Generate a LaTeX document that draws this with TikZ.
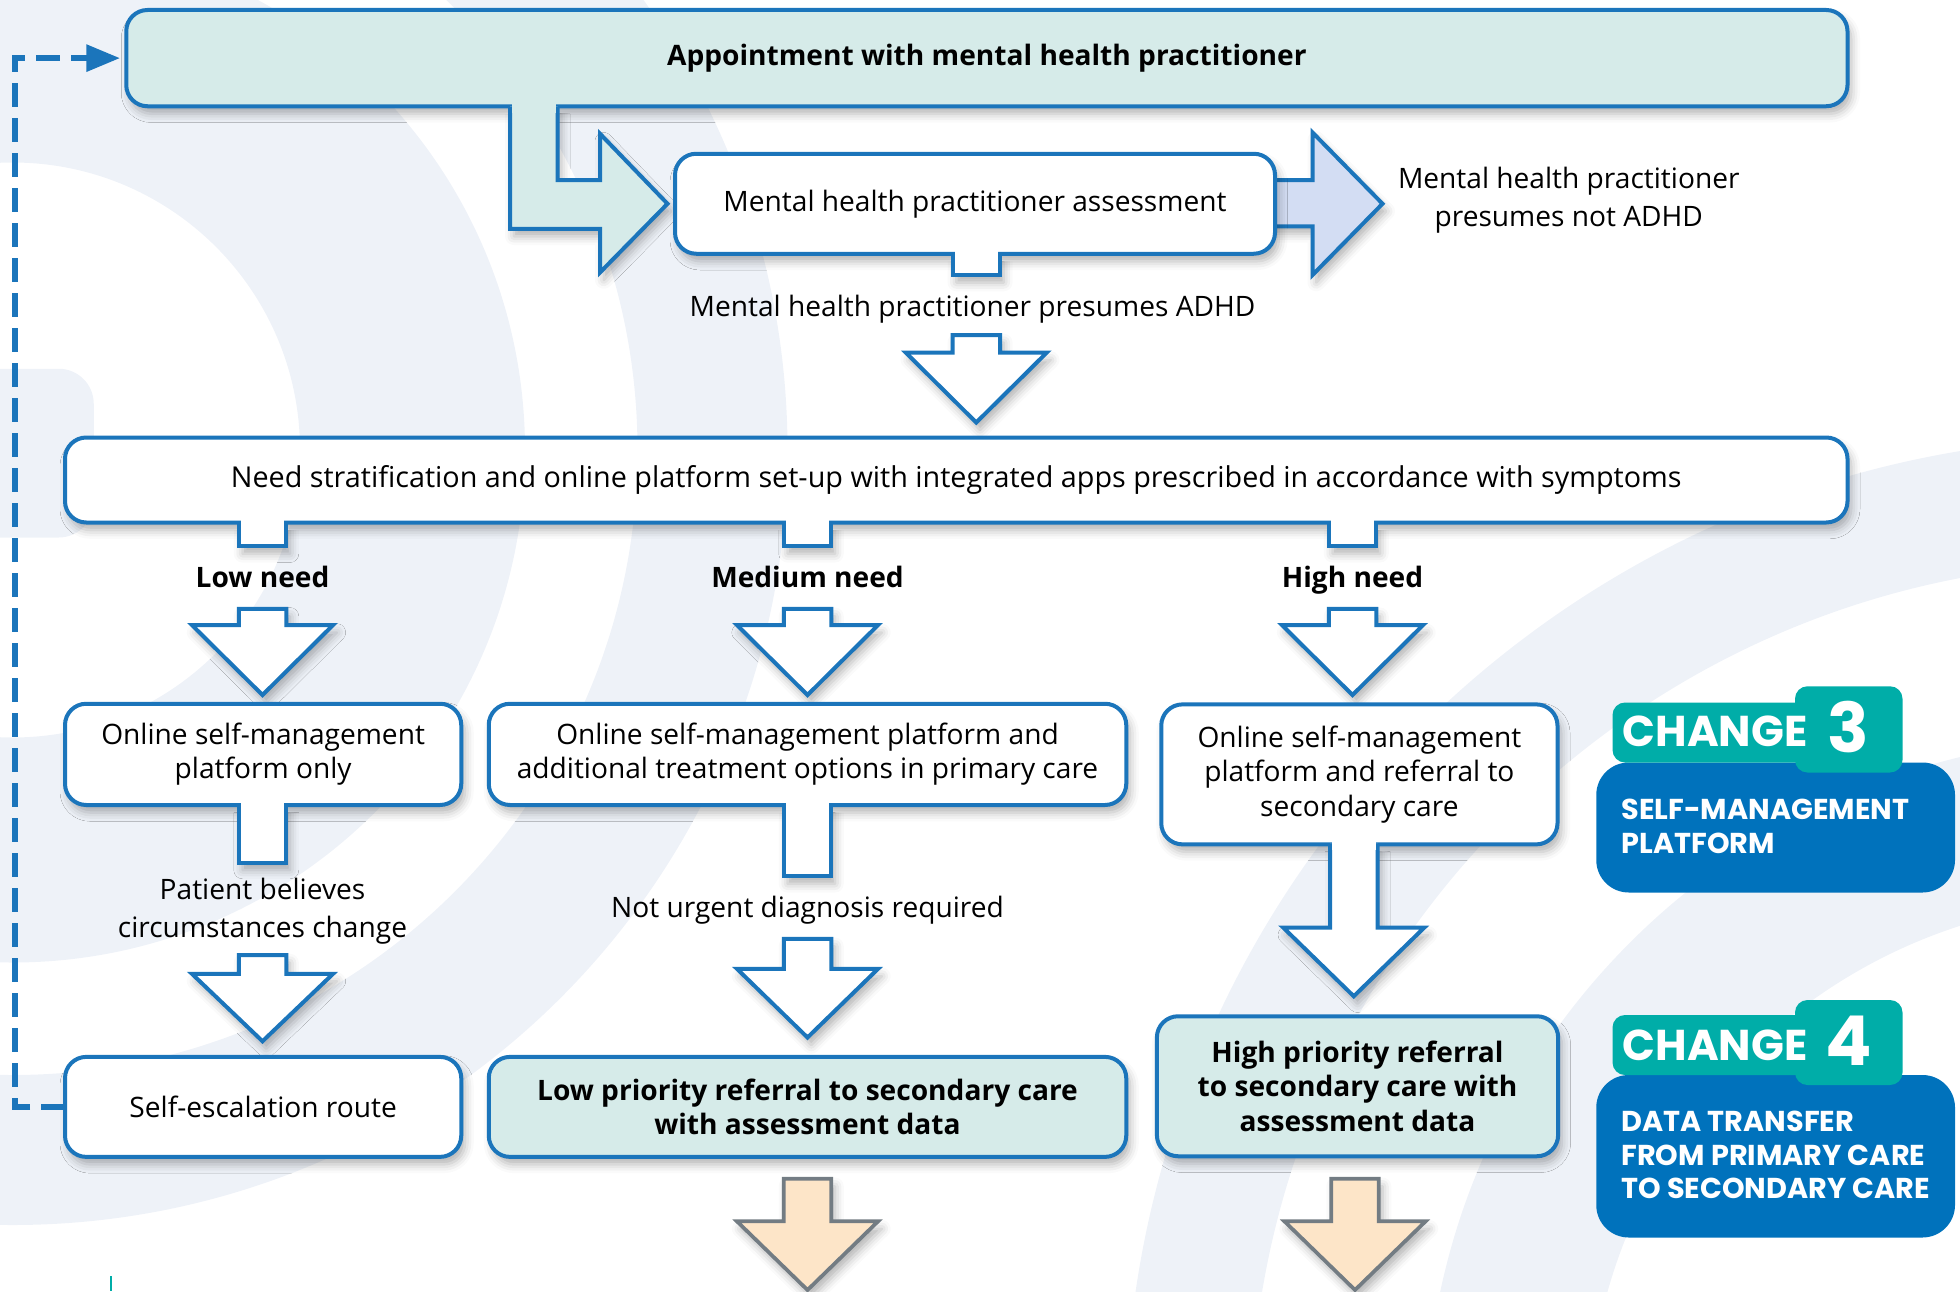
\documentclass[tikz,border=0pt]{standalone}
\usepackage{fontspec}
\setmainfont{Open Sans}
\newfontfamily\badgefont{Poppins}
\usetikzlibrary{calc,positioning,arrows.meta,shadows.blur}

\definecolor{mhblue}{HTML}{1B75BB}
\definecolor{mhteal}{HTML}{D6EBE9}
\definecolor{mhlilac}{HTML}{D3DDF3}
\definecolor{mhpeach}{HTML}{FDE5C8}
\definecolor{mhgrey}{HTML}{737C83}
\definecolor{chteal}{HTML}{00ADA8}
\definecolor{chblue}{HTML}{0072BC}
\definecolor{bgpale}{HTML}{EEF2F8}

\newcommand\mhtext{\fontsize{22.5}{27.5}\selectfont}
\newcommand\mhbold{\fontsize{22.5}{27.5}\selectfont\bfseries}

\tikzset{
  softshadow/.style={blur shadow={shadow xshift=3pt,shadow yshift=-6pt,shadow blur radius=7pt,shadow opacity=30}},
  box/.style={draw=mhblue,line width=3.2pt,rounded corners=17pt,fill=white,align=center,
    inner sep=0pt,outer sep=0pt,softshadow,font=\mhtext},
  txt/.style={align=center,inner sep=0pt,font=\fontsize{22.5}{30}\selectfont},
  arrowline/.style={draw=mhblue,line width=3.2pt,line join=miter,softshadow},
  downarr/.style={arrowline,fill=white},
  peacharr/.style={draw=mhgrey,line width=3pt,line join=miter,fill=mhpeach,softshadow},
  dashline/.style={draw=mhblue,line width=4.4pt,dash pattern=on 19pt off 9pt,
    -{Triangle[length=27pt,width=21pt]},shorten >=5pt},
  badge/.style={text=white,inner sep=0pt,font=\badgefont\bfseries\fontsize{34.5}{34.5}\selectfont},
  badgesub/.style={text=white,inner sep=0pt,align=left,font=\badgefont\bfseries\fontsize{23}{27}\selectfont}
}

% stub under a box: top point, length, fill
\newcommand\stubat[3]{%
  \path[arrowline,fill=#3] ($(#1)+(-19,0)$) -- ++(0,#2) -- ++(38,0) -- ++(0,-#2);
  \fill[#3] ($(#1)+(-17.4,-3)$) rectangle ++(34.8,6);
}
% block arrow pointing down: top point, shaft, head, style
\newcommand\blockdown[4]{%
  \path[#4] ($(#1)+(-19,0)$) -- ++(0,#2) -- ++(-37.5,0) -- ++(56.5,#3)
    -- ++(56.5,-#3) -- ++(-37.5,0) -- ++(0,-#2) -- cycle;
}

\begin{document}
\begin{tikzpicture}[x=1pt,y=-1pt]
  \useasboundingbox (0,0) rectangle (1568,1033);

  % background rings
  \begin{scope}
    \clip (0,0) rectangle (1568,1033);
    \fill[bgpale,even odd rule] (10,360) circle[radius=410pt] (10,360) circle[radius=230pt];
    \fill[bgpale,even odd rule] (10,360) circle[radius=620pt] (10,360) circle[radius=500pt];
    \fill[bgpale,rounded corners=28pt] (-40,295) rectangle (75,430);
    \fill[bgpale,even odd rule] (1700,1150) circle[radius=800pt] (1700,1150) circle[radius=700pt];
    \fill[bgpale,even odd rule] (1700,1150) circle[radius=560pt] (1700,1150) circle[radius=430pt];
  \end{scope}

  % first appointment
  \node[box,fill=mhteal,font=\mhbold,minimum width=1377pt,minimum height=77pt] (appt) at (789.5,46.5)
    {Appointment with mental health practitioner};
  \path[arrowline,fill=mhteal] (408,85) -- (408,183) -- (480,183) -- (480,218) -- (534,163)
    -- (480,107) -- (480,144) -- (446,144) -- (446,85);
  \fill[mhteal] (409.6,80) rectangle (444.4,90);

  % assessment
  \path[arrowline,fill=mhlilac] (1018,144) -- (1050,144) -- (1050,106) -- (1106,163)
    -- (1050,220) -- (1050,181) -- (1018,181);
  \node[box,minimum width=480pt,minimum height=80pt] (assess) at (780,163)
    {Mental health practitioner assessment};
  \coordinate (s0) at (781,203);
  \stubat{s0}{17}{white}
  \node[txt] (notadhd) at (1255,160) {Mental health practitioner\\presumes not ADHD};
  \node[txt] (adhd) at (778,247) {Mental health practitioner presumes ADHD};
  \coordinate (a0) at (781,268);
  \blockdown{a0}{14}{56}{downarr}

  % stratification
  \node[box,minimum width=1426pt,minimum height=68pt,font=\fontsize{23}{27.5}\selectfont] (need) at (765,384)
    {Need stratification and online platform set-up with integrated apps prescribed in accordance with symptoms};
  \coordinate (s1) at (210,418);
  \coordinate (s2) at (646,418);
  \coordinate (s3) at (1082,418);
  \stubat{s1}{19}{white}
  \stubat{s2}{19}{white}
  \stubat{s3}{19}{white}
  \node[txt,font=\mhbold,anchor=base] (lowlbl) at (210,470) {Low need};
  \node[txt,font=\mhbold,anchor=base] (medlbl) at (646,470) {Medium need};
  \node[txt,font=\mhbold,anchor=base] (highlbl) at (1082,470) {High need};
  \coordinate (a1) at (210,487);
  \coordinate (a2) at (646,487);
  \coordinate (a3) at (1082,487);
  \blockdown{a1}{13}{56}{downarr}
  \blockdown{a2}{13}{56}{downarr}
  \blockdown{a3}{13}{56}{downarr}

  % online platform
  \node[box,minimum width=317pt,minimum height=81pt] (low1) at (210.5,603.5)
    {Online self-management\\platform only};
  \node[box,minimum width=510pt,minimum height=81pt] (med1) at (646,603.5)
    {Online self-management platform and\\additional treatment options in primary care};
  \node[box,minimum width=317pt,minimum height=112pt] (high1) at (1087.5,619.5)
    {Online self-management\\platform and referral to\\secondary care};
  \coordinate (s4) at (210,644);
  \coordinate (s5) at (646,644);
  \stubat{s4}{46}{white}
  \stubat{s5}{57}{white}
  \node[txt] (lowwhy) at (210,729) {Patient believes\\circumstances change};
  \node[txt] (medwhy) at (646,728) {Not urgent diagnosis required};
  \coordinate (a4) at (210,764);
  \coordinate (a5) at (646,751);
  \blockdown{a4}{15}{54}{downarr}
  \blockdown{a5}{24}{55}{downarr}
  \path[downarr] (1064,675) -- (1064,742) -- (1026.5,742) -- (1083,797) -- (1139.5,742)
    -- (1102,742) -- (1102,675);
  \fill[white] (1065.6,670) rectangle (1100.4,680);

  % outcomes
  \node[box,minimum width=317pt,minimum height=80pt] (esc) at (210.5,885.5) {Self-escalation route};
  \node[box,fill=mhteal,font=\mhbold,minimum width=510pt,minimum height=80pt] (lowpri) at (646,885.5)
    {Low priority referral to secondary care\\with assessment data};
  \node[box,fill=mhteal,font=\mhbold,minimum width=321pt,minimum height=112pt] (highpri) at (1086,869)
    {High priority referral\\to secondary care with\\assessment data};
  \coordinate (a6) at (646,943);
  \coordinate (a7) at (1084,943);
  \blockdown{a6}{34}{55}{peacharr}
  \blockdown{a7}{34}{55}{peacharr}

  % self-escalation back to the start
  \draw[dashline] (esc.west) -- ++(-40,0) |- (appt.west);

  % change badges
  \fill[chblue,rounded corners=26pt] (1277,610) rectangle (1564,714);
  \fill[chteal,rounded corners=10pt] (1290,562) rectangle (1450,610);
  \fill[chteal,rounded corners=10pt] (1436,549) rectangle (1522,618);
  \node[badge,anchor=base west] (c3word) at (1298,597) {CHANGE};
  \node[badge,anchor=base,font=\badgefont\bfseries\fontsize{55}{55}\selectfont] (c3num) at (1479,602) {3};
  \node[badgesub,anchor=west] (c3sub) at (1297,661) {SELF-MANAGEMENT\\PLATFORM};

  \fill[chblue,rounded corners=26pt] (1277,860) rectangle (1564,990);
  \fill[chteal,rounded corners=10pt] (1290,812) rectangle (1450,860);
  \fill[chteal,rounded corners=10pt] (1436,800) rectangle (1522,868);
  \node[badge,anchor=base west] (c4word) at (1298,848) {CHANGE};
  \node[badge,anchor=base,font=\badgefont\bfseries\fontsize{55}{55}\selectfont] (c4num) at (1479,852) {4};
  \node[badgesub,anchor=west] (c4sub) at (1297,924) {DATA TRANSFER\\FROM PRIMARY CARE\\TO SECONDARY CARE};

  \draw[chteal,line width=1.5pt] (89,1021) -- (89,1033);
\end{tikzpicture}
\end{document}
